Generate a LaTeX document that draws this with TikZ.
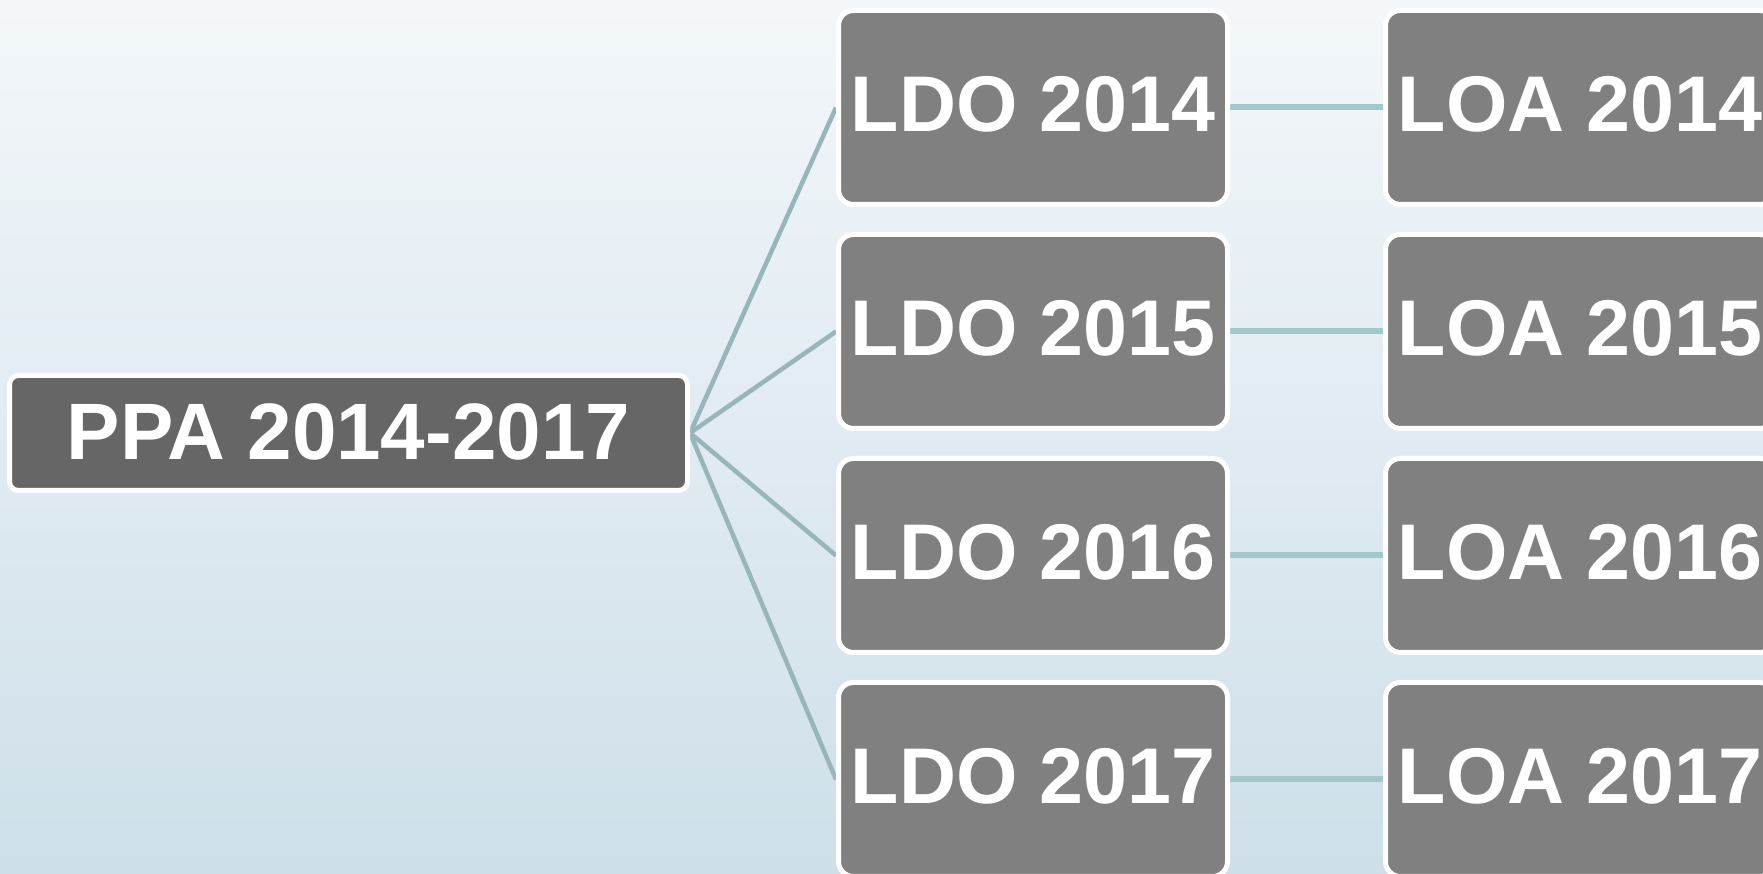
\documentclass[tikz,border=0pt]{standalone}
\usepackage{fontspec}
\setmainfont{Liberation Sans}
\pgfdeclarelayer{bg}
\pgfdeclarelayer{lines}
\pgfsetlayers{bg,lines,main}
\definecolor{bgtop}{RGB}{243,247,250}
\definecolor{bgbot}{RGB}{206,223,233}
\definecolor{boxgray}{RGB}{128,128,128}
\definecolor{ppagray}{RGB}{102,102,102}
\definecolor{diagline}{RGB}{150,182,186}
\definecolor{horzline}{RGB}{162,200,204}
\tikzset{
  x=1pt, y=1pt,
  yearbox/.style={rectangle, rounded corners=15pt, draw=white, line width=5pt,
    fill=boxgray, minimum width=389pt, minimum height=194pt, inner sep=0pt,
    text=white, text depth=8pt, font=\fontsize{79}{95}\selectfont\bfseries},
  ppabox/.style={rectangle, rounded corners=9pt, draw=white, line width=5pt,
    fill=ppagray, minimum width=678pt, minimum height=115pt, inner sep=0pt,
    text=white, text depth=2pt, font=\fontsize{80}{96}\selectfont\bfseries},
  diagconn/.style={draw=diagline, line width=4.5pt},
  horzconn/.style={draw=horzline, line width=6pt}
}
\begin{document}
\begin{tikzpicture}
\useasboundingbox (0,0) rectangle (1763,874);
\clip (0,0) rectangle (1763,874);
\begin{pgfonlayer}{bg}
\shade[top color=bgtop, bottom color=bgbot] (0,0) rectangle (1763,874);
\end{pgfonlayer}
\node[ppabox] (ppa) at (348.5,441) {PPA 2014-2017};
\node[yearbox] (ldo14) at (1033,766.5) {LDO 2014};
\node[yearbox] (ldo15) at (1033,542.5) {LDO 2015};
\node[yearbox] (ldo16) at (1033,318.5) {LDO 2016};
\node[yearbox] (ldo17) at (1033,94.5) {LDO 2017};
\node[yearbox] (loa14) at (1580,766.5) {LOA 2014};
\node[yearbox] (loa15) at (1580,542.5) {LOA 2015};
\node[yearbox] (loa16) at (1580,318.5) {LOA 2016};
\node[yearbox] (loa17) at (1580,94.5) {LOA 2017};
\begin{pgfonlayer}{lines}
\draw[diagconn] (ppa.east) -- (ldo14.west);
\draw[diagconn] (ppa.east) -- (ldo15.west);
\draw[diagconn] (ppa.east) -- (ldo16.west);
\draw[diagconn] (ppa.east) -- (ldo17.west);
\draw[horzconn] (ldo14.east) -- (loa14.west);
\draw[horzconn] (ldo15.east) -- (loa15.west);
\draw[horzconn] (ldo16.east) -- (loa16.west);
\draw[horzconn] (ldo17.east) -- (loa17.west);
\end{pgfonlayer}
\end{tikzpicture}
\end{document}
